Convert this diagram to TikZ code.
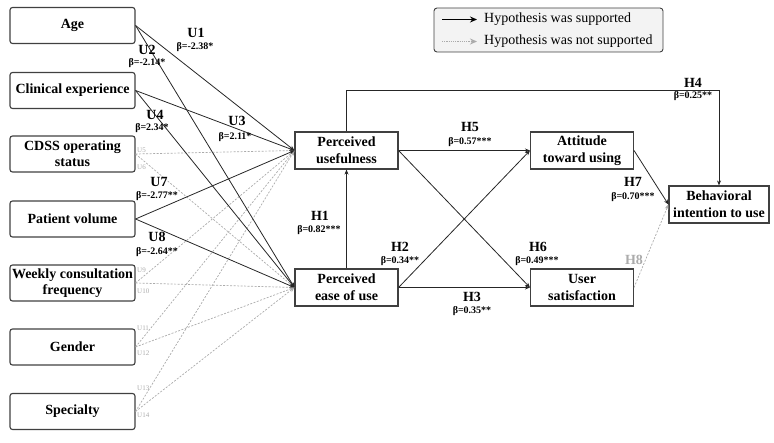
\documentclass[tikz,border=0pt]{standalone}
\usepackage{fontspec}
\setmainfont{Liberation Serif}
\usetikzlibrary{arrows.meta}
\definecolor{boxc}{HTML}{404040}
\definecolor{linec}{HTML}{262626}
\definecolor{dashc}{HTML}{ABABAB}
\definecolor{legf}{HTML}{F3F3F3}
\tikzset{
 lbox/.style={draw=boxc, line width=1.1pt, rounded corners=2.5pt, minimum width=125pt, minimum height=36pt, align=center, inner sep=0pt, font=\fontsize{14}{16}\selectfont\bfseries},
 cbox/.style={draw=boxc, line width=1.1pt, minimum width=103pt, minimum height=37pt, align=center, inner sep=0pt, font=\fontsize{14}{17}\selectfont\bfseries},
 supl/.style={draw=linec, line width=0.8pt, -{Stealth[length=5pt,width=4pt]}},
 nsupl/.style={draw=dashc, line width=0.7pt, dash pattern=on 2pt off 1.5pt, -{Stealth[length=5pt,width=4pt]}},
 hl/.style={font=\fontsize{14}{14}\selectfont\bfseries, inner sep=0pt},
 bl/.style={font=\fontsize{10}{10}\selectfont\bfseries, inner sep=0pt},
 ul/.style={font=\fontsize{7}{7}\selectfont, text=dashc, inner sep=0pt, anchor=west},
}
\begin{document}
\begin{tikzpicture}[x=1pt,y=-1pt]
\useasboundingbox (0,0) rectangle (774,443);
% left boxes
\node[lbox] (age) at (72.5,25.5) {Age};
\node[lbox] (cli) at (72.5,90.5) {Clinical experience};
\node[lbox] (cdss) at (72.5,154) {CDSS operating\\status};
\node[lbox] (pat) at (72.5,219) {Patient volume};
\node[lbox] (wee) at (72.5,283) {Weekly consultation\\frequency};
\node[lbox] (gen) at (72.5,347) {Gender};
\node[lbox] (spe) at (72.5,411.5) {Specialty};
% central boxes
\node[cbox] (pu) at (346.5,150.5) {Perceived\\usefulness};
\node[cbox] (peou) at (346.5,287.5) {Perceived\\ease of use};
\node[cbox] (att) at (582,150.5) {Attitude\\toward using};
\node[cbox] (us) at (582,287.5) {User\\satisfaction};
\node[cbox, minimum width=100pt] (bi) at (719,204.5) {Behavioral\\intention to use};
% not supported (dashed) first
\draw[nsupl] (cdss.east) -- (pu.west);
\draw[nsupl] (cdss.east) -- (peou.west);
\draw[nsupl] (wee.east) -- (pu.west);
\draw[nsupl] (wee.east) -- (peou.west);
\draw[nsupl] (gen.east) -- (pu.west);
\draw[nsupl] (gen.east) -- (peou.west);
\draw[nsupl] (spe.east) -- (pu.west);
\draw[nsupl] (spe.east) -- (peou.west);
\draw[nsupl] (us.east) -- (bi.west);
% supported
\draw[supl] (age.east) -- (pu.west);
\draw[supl] (age.east) -- (peou.west);
\draw[supl] (cli.east) -- (pu.west);
\draw[supl] (cli.east) -- (peou.west);
\draw[supl] (pat.east) -- (pu.west);
\draw[supl] (pat.east) -- (peou.west);
\draw[supl] (peou.north) -- (pu.south);
\draw[supl] (pu.east) -- (att.west);
\draw[supl] (pu.east) -- (us.west);
\draw[supl] (peou.east) -- (att.west);
\draw[supl] (peou.east) -- (us.west);
\draw[supl] (pu.north) -- ++(0,-41) -| (bi.north);
\draw[supl] (att.east) -- (bi.west);
% U labels
\node[hl] (u1) at (196,33) {U1};
\node[bl] (b1) at (195,47) {β=-2.38*};
\node[hl] (u2) at (147,50) {U2};
\node[bl] (b2) at (147,63) {β=-2.14*};
\node[hl] (u3) at (237,121) {U3};
\node[bl] (b3) at (235,137) {β=2.11*};
\node[hl] (u4) at (155,115) {U4};
\node[bl] (b4) at (152,128) {β=2.34*};
\node[hl] (u7) at (159,182) {U7};
\node[bl] (b7) at (157,196) {β=-2.77**};
\node[hl] (u8) at (157,237) {U8};
\node[bl] (b8) at (157,252) {β=-2.64**};
\node[ul] (u5) at (137,150) {U5};
\node[ul] (u6) at (137,167) {U6};
\node[ul] (u9) at (137,270) {U9};
\node[ul] (u10) at (137,291) {U10};
\node[ul] (u11) at (137,328) {U11};
\node[ul] (u12) at (137,353) {U12};
\node[ul] (u13) at (137,388) {U13};
\node[ul] (u14) at (137,415) {U14};
% H labels
\node[hl] (h1) at (320,216) {H1};
\node[bl] (bh1) at (319,230) {β=0.82***};
\node[hl] (h2) at (400,247) {H2};
\node[bl] (bh2) at (400,261) {β=0.34**};
\node[hl] (h3) at (472,297) {H3};
\node[bl] (bh3) at (472,311) {β=0.35**};
\node[hl] (h4) at (693,83) {H4};
\node[bl] (bh4) at (693,96) {β=0.25**};
\node[hl] (h5) at (470,127) {H5};
\node[bl] (bh5) at (470,142) {β=0.57***};
\node[hl] (h6) at (538,247) {H6};
\node[bl] (bh6) at (537,261) {β=0.49***};
\node[hl] (h7) at (633,182) {H7};
\node[bl] (bh7) at (633,197) {β=0.70***};
\node[hl, text=dashc] (h8) at (634,260) {H8};
% legend
\node[draw=boxc, line width=0.9pt, fill=legf, rounded corners=3pt, minimum width=229pt, minimum height=44pt, inner sep=0pt] (leg) at (548.5,30) {};
\coordinate (la1) at (442,19.5);
\coordinate (la2) at (477,19.5);
\coordinate (lb1) at (442,41.5);
\coordinate (lb2) at (477,41.5);
\draw[draw=black, line width=1.4pt, -{Stealth[length=7pt,width=6pt]}] (la1) -- (la2);
\draw[draw=dashc, line width=1.4pt, dash pattern=on 1.2pt off 1pt, -{Stealth[length=7pt,width=6pt]}] (lb1) -- (lb2);
\node[anchor=west, inner sep=0pt, font=\fontsize{14}{14}\selectfont] (lt1) at (484,19.5) {Hypothesis was supported};
\node[anchor=west, inner sep=0pt, font=\fontsize{14}{14}\selectfont] (lt2) at (484,41.5) {Hypothesis was not supported};
\end{tikzpicture}
\end{document}
